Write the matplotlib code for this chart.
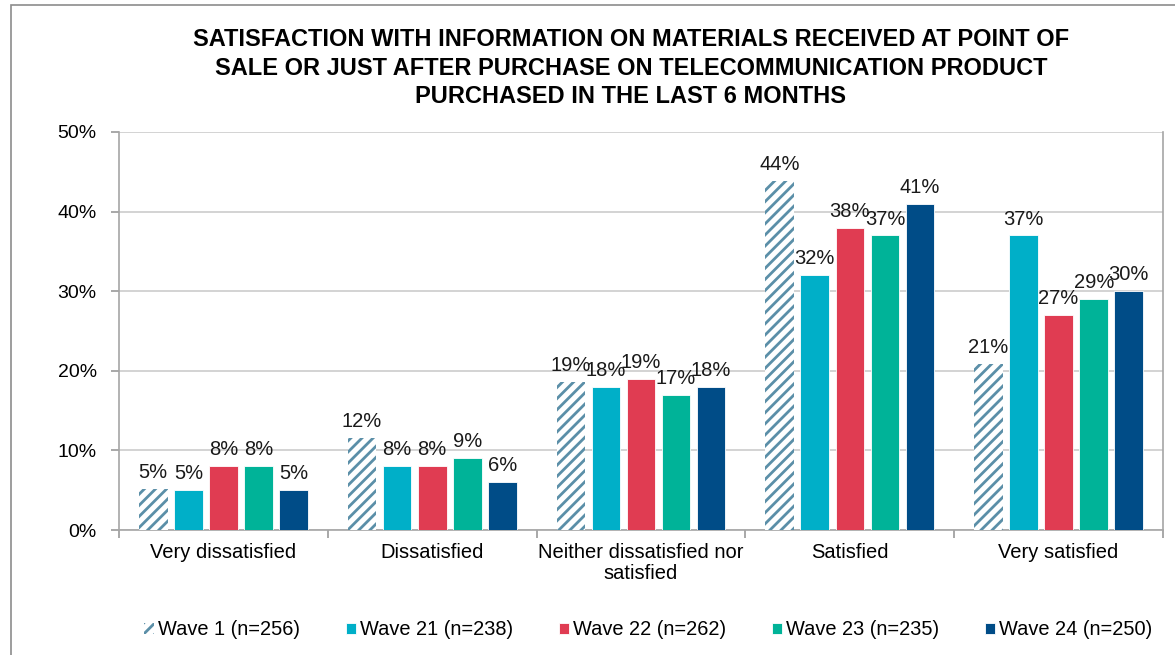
import matplotlib
matplotlib.use("Agg")
import matplotlib.pyplot as plt
import numpy as np
from matplotlib.patches import Rectangle

plt.rcParams["font.family"] = ["Liberation Sans", "DejaVu Sans"]
plt.rcParams["hatch.linewidth"] = 2.0

categories = ["Very dissatisfied", "Dissatisfied", "Neither dissatisfied nor\nsatisfied",
              "Satisfied", "Very satisfied"]
series_names = ["Wave 1 (n=256)", "Wave 21 (n=238)", "Wave 22 (n=262)",
                "Wave 23 (n=235)", "Wave 24 (n=250)"]
wave1 = [5.1, 11.6, 18.6, 43.9, 20.9]
wave21 = [5, 8, 18, 32, 37]
wave22 = [8, 8, 19, 38, 27]
wave23 = [8, 9, 17, 37, 29]
wave24 = [5, 6, 18, 41, 30]
colors = ["#5b8fa8", "#00afc8", "#e03c52", "#00b398", "#004c87"]
y_ticks = [0, 10, 20, 30, 40, 50]

title = ("SATISFACTION WITH INFORMATION ON MATERIALS RECEIVED AT POINT OF\n"
         "SALE OR JUST AFTER PURCHASE ON TELECOMMUNICATION PRODUCT\n"
         "PURCHASED IN THE LAST 6 MONTHS")

fig = plt.figure(figsize=(11.75, 6.55), dpi=100)
ax = fig.add_axes([0.1013, 0.1908, 0.8885, 0.6077])

# outer frame of the chart area
fig.patches.append(Rectangle((11 / 1175, -0.1), 1.2, 1.1 - 5 / 655, transform=fig.transFigure,
                             fill=False, edgecolor="#8c8c8c", linewidth=1.2))

x = np.arange(len(categories))
slot = 0.168
width = 0.137
all_series = [wave1, wave21, wave22, wave23, wave24]
for i, (vals, name, col) in enumerate(zip(all_series, series_names, colors)):
    pos = x + (i - 2) * slot
    if i == 0:
        bars = ax.bar(pos, vals, width, label=name, facecolor="white", edgecolor=col,
                      hatch="///", linewidth=0, zorder=3)
    else:
        bars = ax.bar(pos, vals, width, label=name, color=col, edgecolor="white",
                      linewidth=0.6, zorder=3)
    for b, v in zip(bars, vals):
        ax.annotate(f"{round(v):.0f}%", (b.get_x() + b.get_width() / 2, v),
                    xytext=(0, 5), textcoords="offset points", ha="center", va="bottom",
                    fontsize=14.5, color="#1a1a1a")

ax.set_xlim(-0.5, len(categories) - 0.5)
ax.set_ylim(0, 50)
ax.set_yticks(y_ticks)
ax.set_yticklabels([f"{t}%" for t in y_ticks], fontsize=14)
ax.yaxis.grid(True, color="#cccccc", linewidth=1.2, zorder=0)
ax.set_axisbelow(True)

ax.set_xticks(x)
ax.set_xticklabels(categories, fontsize=14.5, linespacing=1.15)
ax.tick_params(axis="x", length=0, pad=9)
ax.set_xticks(np.arange(len(categories) + 1) - 0.5, minor=True)
ax.tick_params(axis="x", which="minor", length=6, color="#999999", width=1.2)
ax.tick_params(axis="y", length=6, color="#999999", width=1.2, pad=10)

ax.spines["top"].set_visible(False)
for s in ["left", "right", "bottom"]:
    ax.spines[s].set_color("#a6a6a6")
    ax.spines[s].set_linewidth(1.2)

fig.text(0.537, 0.957, title, ha="center", va="top", fontsize=17, fontweight="bold",
         linespacing=1.3)

ax.legend(loc="center", bbox_to_anchor=(0.507, -0.251), ncol=5, frameon=False,
          fontsize=14.4, handlelength=0.5, handleheight=0.5, handletextpad=0.2,
          columnspacing=2.3)

fig.savefig("out.png", dpi=100)
